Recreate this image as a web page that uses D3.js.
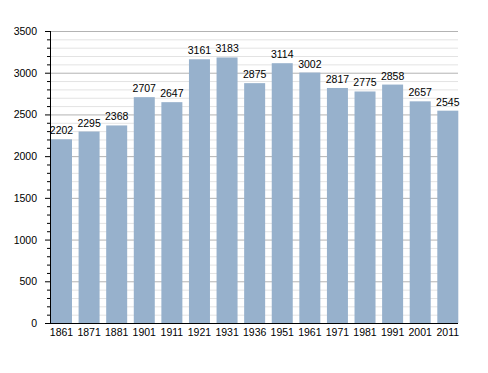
<!DOCTYPE html>
<html><head><meta charset="utf-8">
<script src="https://cdn.jsdelivr.net/npm/d3@7"></script>
<style>body{margin:0;background:#fff}svg{display:block}text{font-family:"Liberation Sans",Arial,sans-serif}</style>
</head><body><svg id="c" width="488" height="373"></svg>
<script>
const years = ["1861","1871","1881","1901","1911","1921","1931","1936","1951","1961","1971","1981","1991","2001","2011"];
const population = [2202,2295,2368,2707,2647,3161,3183,2875,3114,3002,2817,2775,2858,2657,2545];
const yTicks = [0,500,1000,1500,2000,2500,3000,3500];

const svg = d3.select("#c");
const x0 = 50, x1 = 458, yTop = 31, yBot = 323;
const x = d3.scaleBand().domain(years).range([51, 458.3]).paddingInner(0.239).paddingOuter(0);
const y = d3.scaleLinear().domain([0, 3500]).range([yBot, yTop]);

// minor grid
svg.append("g").selectAll("line").data(d3.range(100, 3501, 100).filter(v => v % 500 !== 0))
  .join("line").attr("x1", x0).attr("x2", x1).attr("y1", d => y(d) + 0.5).attr("y2", d => y(d) + 0.5)
  .attr("stroke", "#e3e3e3").attr("stroke-width", 1);
// major grid
svg.append("g").selectAll("line").data(yTicks.filter(v => v > 0))
  .join("line").attr("x1", x0).attr("x2", x1).attr("y1", d => y(d) + 0.5).attr("y2", d => y(d) + 0.5)
  .attr("stroke", "#b3b3b3").attr("stroke-width", 1);

// bars
svg.append("g").selectAll("rect").data(years)
  .join("rect").attr("x", d => x(d)).attr("width", x.bandwidth())
  .attr("y", (d, i) => y(population[i])).attr("height", (d, i) => yBot - y(population[i]))
  .attr("fill", "#97b1cc");

// value labels
svg.append("g").selectAll("text").data(years)
  .join("text").attr("x", d => x(d) + x.bandwidth() / 2).attr("y", (d, i) => y(population[i]) - 5)
  .attr("text-anchor", "middle").attr("font-size", "10.5px").attr("fill", "#000")
  .text((d, i) => population[i]);

// minor y ticks
svg.append("g").selectAll("line").data(d3.range(0, 3501, 100))
  .join("line").attr("x1", d => d % 500 === 0 ? 45 : 47).attr("x2", x0)
  .attr("y1", d => y(d) + 0.5).attr("y2", d => y(d) + 0.5).attr("stroke", "#000");

// y tick labels
svg.append("g").selectAll("text").data(yTicks)
  .join("text").attr("x", 37).attr("y", d => y(d) + 4).attr("text-anchor", "end")
  .attr("font-size", "10.5px").attr("fill", "#000").text(d => d);

// axes lines
svg.append("line").attr("x1", x0 + 0.5).attr("x2", x0 + 0.5).attr("y1", yTop).attr("y2", yBot + 1).attr("stroke", "#000");
svg.append("line").attr("x1", x0).attr("x2", x1).attr("y1", yBot + 0.5).attr("y2", yBot + 0.5).attr("stroke", "#000");

// x labels
svg.append("g").selectAll("text").data(years)
  .join("text").attr("x", d => x(d) + x.bandwidth() / 2).attr("y", 336)
  .attr("text-anchor", "middle").attr("font-size", "10.5px").attr("fill", "#000").text(d => d);
</script></body></html>
